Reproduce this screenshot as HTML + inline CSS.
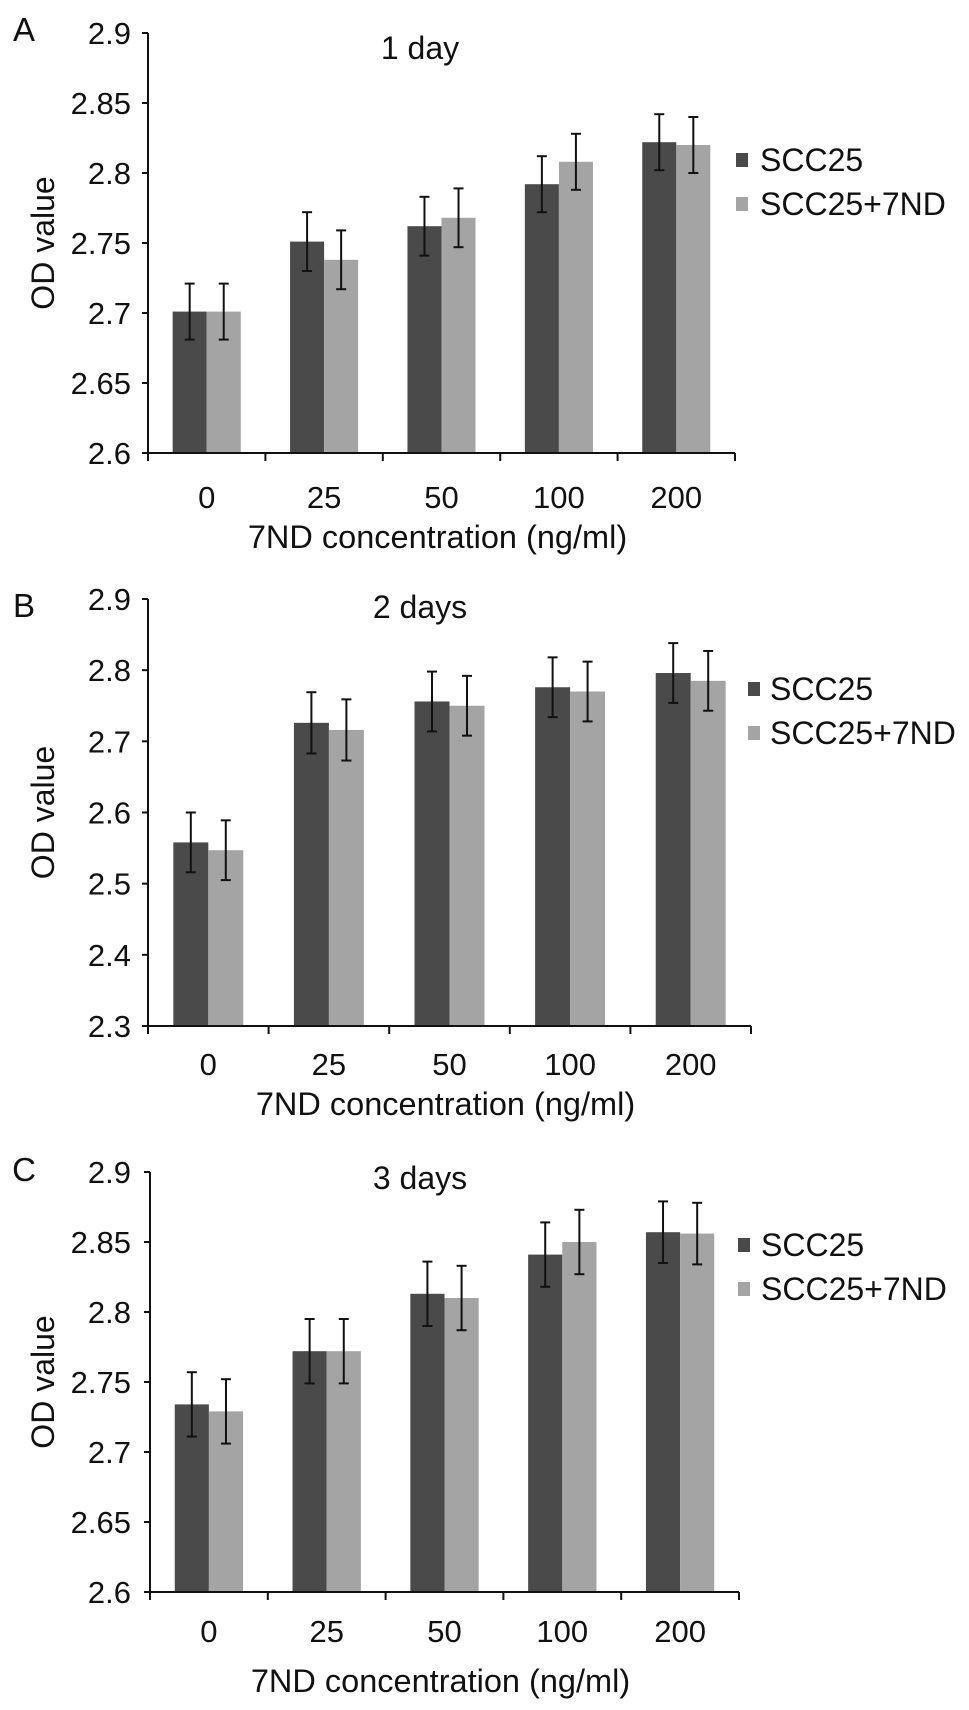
<!DOCTYPE html>
<html><head><meta charset="utf-8"><style>
body{margin:0;background:#fff;}
svg{display:block;font-family:"Liberation Sans",sans-serif;}
</style></head><body>
<svg id="fig" width="969" height="1710" viewBox="0 0 969 1710"></svg>
<script>
const categories = ["0","25","50","100","200"];
const seriesNames = ["SCC25","SCC25+7ND"];
const aDark = [2.701, 2.751, 2.762, 2.792, 2.822];
const aLight = [2.701, 2.738, 2.768, 2.808, 2.820];
const aErr = [0.020, 0.021, 0.021, 0.020, 0.020];
const bDark = [2.558, 2.726, 2.756, 2.776, 2.796];
const bLight = [2.547, 2.716, 2.750, 2.770, 2.785];
const bErr = [0.042, 0.043, 0.042, 0.042, 0.042];
const cDark = [2.734, 2.772, 2.813, 2.841, 2.857];
const cLight = [2.729, 2.772, 2.810, 2.850, 2.856];
const cErr = [0.023, 0.023, 0.023, 0.023, 0.022];
const aTicks = ["2.6","2.65","2.7","2.75","2.8","2.85","2.9"];
const bTicks = ["2.3","2.4","2.5","2.6","2.7","2.8","2.9"];
const cTicks = ["2.6","2.65","2.7","2.75","2.8","2.85","2.9"];

const NS="http://www.w3.org/2000/svg";
const svg=document.getElementById('fig');
function mk(tag,attrs,parent,text){const e=document.createElementNS(NS,tag);for(const k in attrs)e.setAttribute(k,attrs[k]);if(text!==undefined)e.textContent=text;(parent||svg).appendChild(e);return e;}

const panels=[
 {id:'a',letter:'A',title:'1 day',dark:aDark,light:aLight,err:aErr,ticks:aTicks,x0:148,x1:735,yBase:453,yTop:33,labY:29,titleY:48,catY:497,xtY:537,legX:736,legTxt:760,legY:[160,204]},
 {id:'b',letter:'B',title:'2 days',dark:bDark,light:bLight,err:bErr,ticks:bTicks,x0:148,x1:751,yBase:1026,yTop:599,labY:605,titleY:607,catY:1064,xtY:1104,legX:748,legTxt:770,legY:[689,733]},
 {id:'c',letter:'C',title:'3 days',dark:cDark,light:cLight,err:cErr,ticks:cTicks,x0:150,x1:739,yBase:1592,yTop:1172,labY:1169,titleY:1178,catY:1631,xtY:1681,legX:738,legTxt:761,legY:[1245,1289]}
];
const colors=['#4a4a4a','#a4a4a4'];

panels.forEach(p=>{
  const g=mk('g',{});
  
  
  const ymin=parseFloat(p.ticks[0]), ymax=parseFloat(p.ticks[p.ticks.length-1]);
  const y=v=>p.yBase-(v-ymin)/(ymax-ymin)*(p.yBase-p.yTop);
  const cw=(p.x1-p.x0)/categories.length;
  const bw=cw*0.29;
  const x=i=>p.x0+cw*(i+0.5);
  [p.dark,p.light].forEach((arr,s)=>{
    arr.forEach((v,i)=>{
      const bx=x(i)-bw+s*bw;
      const r=mk('rect',{x:bx,y:y(v),width:bw,height:p.yBase-y(v),fill:colors[s]},g);
      
      
    });
  });
  [p.dark,p.light].forEach((arr,s)=>{
    arr.forEach((v,i)=>{
      const cx=x(i)-bw/2+s*bw;
      const e=p.err[i];
      const eg=mk('g',{stroke:'#111','stroke-width':2},g);
      
      
      mk('line',{x1:cx,x2:cx,y1:y(v+e),y2:y(v-e)},eg);
      mk('line',{x1:cx-5,x2:cx+5,y1:y(v+e),y2:y(v+e)},eg);
      mk('line',{x1:cx-5,x2:cx+5,y1:y(v-e),y2:y(v-e)},eg);
    });
  });
  const ax=mk('g',{stroke:'#111','stroke-width':2},g);
  
  
  mk('line',{x1:p.x0,x2:p.x0,y1:p.yTop,y2:p.yBase+8},ax);
  mk('line',{x1:p.x0,x2:p.x1,y1:p.yBase,y2:p.yBase},ax);
  for(let i=0;i<=categories.length;i++){const tx=p.x0+cw*i;mk('line',{x1:tx,x2:tx,y1:p.yBase,y2:p.yBase+8},ax);}
  p.ticks.forEach(t=>{
    const ty=y(parseFloat(t));
    mk('line',{x1:p.x0-6,x2:p.x0,y1:ty,y2:ty},ax);
    const tl=mk('text',{x:131,y:ty+11,'text-anchor':'end','font-size':31,fill:'#111'},g,t);
    
    
  });
  categories.forEach((c,i)=>{
    const cl=mk('text',{x:x(i),y:p.catY+11,'text-anchor':'middle','font-size':31,fill:'#111'},g,c);
    
    
  });
  const xt=mk('text',{x:(p.x0+p.x1)/2-4,y:p.xtY+11,'text-anchor':'middle','font-size':32.5,fill:'#111'},g,'7ND concentration (ng/ml)');
  
  
  const cy=(p.yTop+p.yBase)/2;
  const yt=mk('text',{x:0,y:0,'text-anchor':'middle','font-size':32,fill:'#111',transform:`translate(54,${cy}) rotate(-90)`},g,'OD value');
  
  
  const tt=mk('text',{x:420,y:p.titleY+11,'text-anchor':'middle','font-size':32,fill:'#111'},g,p.title);
  
  
  const pl=mk('text',{x:24,y:p.labY+12,'text-anchor':'middle','font-size':33,fill:'#111'},g,p.letter);
  
  
  seriesNames.forEach((n,s)=>{
    const lg=mk('g',{},g);
    
    
    mk('rect',{x:p.legX,y:p.legY[s]-7,width:12,height:14,fill:colors[s]},lg);
    mk('text',{x:p.legTxt,y:p.legY[s]+11,'font-size':32,fill:'#111'},lg,n);
  });
});
</script>
</body></html>
